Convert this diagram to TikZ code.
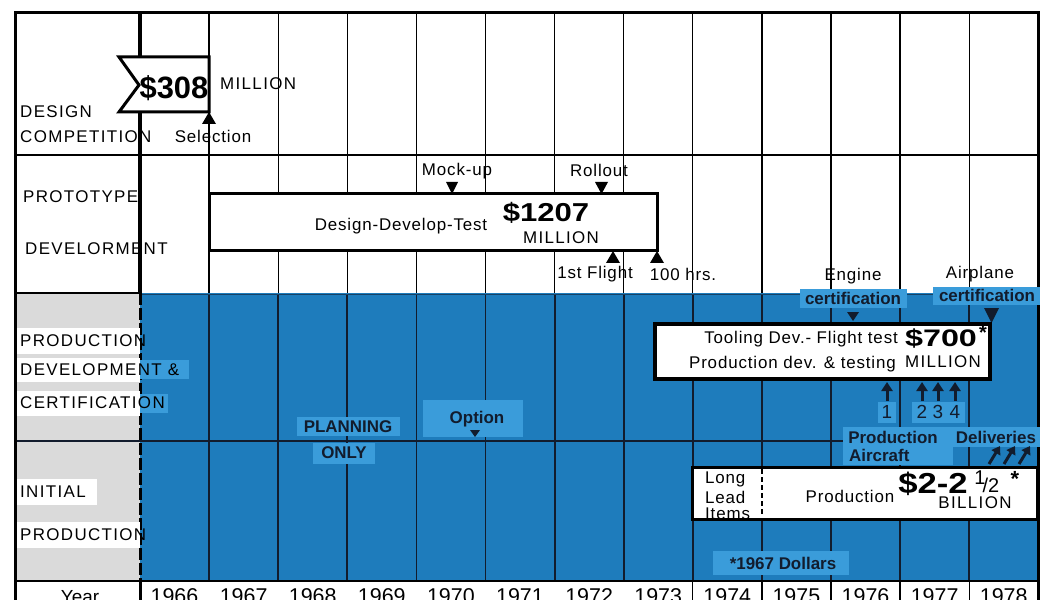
\documentclass[tikz,border=0pt]{standalone}
\usepackage{fontspec}
\usepackage{graphicx}
\setmainfont{Liberation Sans}
\newfontfamily\labf[LetterSpace=8]{Liberation Sans}
\newfontfamily\txtf[LetterSpace=5]{Liberation Sans}
\newfontfamily\numf{Liberation Sans}
\usetikzlibrary{arrows.meta}
\definecolor{bgblue}{RGB}{30,124,188}
\definecolor{hlblue}{RGB}{58,156,218}
\definecolor{ink}{RGB}{18,28,45}
\definecolor{stip}{RGB}{218,218,218}
\tikzset{
  lab/.style={font=\labf\fontsize{17}{17}\selectfont, inner sep=0pt},
  txt/.style={font=\txtf\fontsize{17}{17}\selectfont, inner sep=0pt},
  btxt/.style={font=\numf\bfseries\fontsize{17}{17}\selectfont, inner sep=0pt, text=ink},
  bignum/.style={font=\numf\bfseries\fontsize{#1}{#1}\selectfont, inner sep=0pt},
  yr/.style={font=\numf\fontsize{21.5}{22}\selectfont, inner sep=0pt, anchor=base},
  hl/.style={fill=hlblue},
  gridw/.style={line width=1.3bp, black},
  gridb/.style={line width=1.8bp, ink},
  heavybox/.style={line width=3bp, black, fill=white},
  uparrow/.style={ink, line width=3bp, -{Triangle[width=11bp,length=9bp]}},
}
\begin{document}
\begin{tikzpicture}[x=1bp,y=-1bp]
\useasboundingbox (0,0) rectangle (1040,600);
\fill[white] (0,0) rectangle (1040,600);
% regions
\fill[bgblue] (140,293) rectangle (1040,581);
\fill[stip] (15,293) rectangle (140,581);
\draw[ink!60!bgblue, line width=1.5bp] (140,294.5) -- (1040,294.5);
% grid
\foreach \k in {1,...,12}{
  \draw[gridw] ({140+69.1*\k},13) -- ({140+69.1*\k},293);
  \draw[gridb] ({140+69.1*\k},295) -- ({140+69.1*\k},581);
}
\foreach \k in {8,...,12}{
  \draw[gridw] ({140+69.1*\k},581) -- ({140+69.1*\k},600);
}
\draw[line width=1.6bp] (15,155) -- (1038,155);
\draw[line width=1.6bp] (15,293) -- (140,293);
\draw[line width=2bp, ink] (15,441) -- (845,441);
\draw[line width=2.5bp] (15,581) -- (1038,581);
\draw[line width=3bp] (15,600) -- (15,13) -- (1038,13) -- (1038,600);
\draw[line width=3.5bp] (140,13) -- (140,293);
\draw[line width=3bp, dash pattern=on 12bp off 3bp] (140,293) -- (140,581);
\draw[line width=3bp] (140,581) -- (140,600);

% ---- row 1
\node[lab, anchor=west] (design) at (20,112) {DESIGN};
\node[lab, anchor=west] (compet) at (20,137) {COMPETITION};
\draw[line width=3bp, fill=white, line join=miter] (119,57) -- (209,57) -- (209,112) -- (119,112) -- (139,85) -- cycle;
\node[bignum=31] (p308) at (174,88) {\$308};
\node[lab, anchor=west] (mil308) at (220,84) {MILLION};
\fill (202,124) -- (216,124) -- (209,112) -- cycle;
\node[txt] (sel) at (213,136) {Selection};

% ---- row 2
\node[lab, anchor=west] (proto) at (23,197) {PROTOTYPE};
\node[lab, anchor=west] (develor) at (25,249) {DEVELORMENT};
\draw[heavybox] (209,194) rectangle (657,251);
\node[txt] (ddt) at (401,226) {Design-Develop-Test};
\node[bignum=26] (p1207) at (546,213) {\scalebox{1.2}[1]{\$1207}};
\node[lab] (mil1207) at (561,238) {MILLION};
\node[txt] (mock) at (457,171) {Mock-up};
\fill (446,182) -- (458,182) -- (452,194) -- cycle;
\node[txt] (roll) at (599,170) {Rollout};
\fill (595,182) -- (608,182) -- (601.5,194) -- cycle;
\fill (606,263) -- (620,263) -- (613,251) -- cycle;
\fill (650,263) -- (664,263) -- (657,251) -- cycle;
\node[txt] (flight) at (595,274) {1st Flight};
\node[txt] (hrs) at (683,274) {100 hrs.};

% ---- certification labels
\node[txt] (engine) at (853,276) {Engine};
\fill[hl] (800,289) rectangle (907,308);
\node[btxt] (ecert) at (853,298) {certification};
\node[txt] (airpl) at (980,274) {Airplane};
\fill[hl] (933,287) rectangle (1040,305);
\node[btxt] (acert) at (987,295) {certification};
\fill[ink] (847,312) -- (859,312) -- (853,321) -- cycle;
\fill[ink] (984,308) -- (999,308) -- (991.5,323) -- cycle;

% ---- row 3 labels
\fill[white] (17,328) rectangle (140,354);
\node[lab, anchor=west] (prod3) at (20,341) {PRODUCTION};
\fill[white] (17,358) rectangle (140,382);
\fill[hl] (140,360) rectangle (189,379);
\node[lab, anchor=west] (devel3) at (20,370) {DEVELOPMENT \&};
\fill[white] (17,391) rectangle (140,416);
\fill[hl] (140,394) rectangle (168,413);
\node[lab, anchor=west] (cert3) at (20,403) {CERTIFICATION};

% ---- row 4 labels
\fill[white] (17,479) rectangle (97,505);
\node[lab, anchor=west] (init4) at (20,492) {INITIAL};
\fill[white] (17,522) rectangle (140,548);
\node[lab, anchor=west] (prod4) at (20,535) {PRODUCTION};

% ---- planning / option
\fill[hl] (297,417) rectangle (400,436);
\node[btxt] (plan) at (348,427) {PLANNING};
\fill[hl] (313,443) rectangle (375,464);
\node[btxt] (only) at (344,453) {ONLY};
\fill[hl] (423,400) rectangle (523,437);
\node[btxt] (option) at (477,419) {Option};
\fill[ink] (470,430) -- (480,430) -- (475,437) -- cycle;

% ---- row 3 box
\draw[heavybox, line width=3.5bp] (655,324) rectangle (990,379);
\node[txt, anchor=east] (tool) at (898,339) {Tooling Dev.- Flight test};
\node[txt, anchor=east] (pdev) at (896,364) {Production dev. \& testing};
\node[bignum=24] (p700) at (941,339) {\scalebox{1.35}[1]{\$700}};
\node[bignum=20] (ast1) at (983,333) {*};
\node[lab] (mil700) at (943,362) {MILLION};
\foreach \x in {887,922,938,955}{
  \draw[uparrow] (\x,401) -- (\x,382);
}
\fill[hl] (878,402) rectangle (896,423);
\fill[hl] (912,402) rectangle (965,423);
\node[txt, text=ink, font=\numf\fontsize{19}{19}\selectfont] (n1) at (887,412) {1};
\node[txt, text=ink, font=\numf\fontsize{19}{19}\selectfont] (n2) at (922,412) {2};
\node[txt, text=ink, font=\numf\fontsize{19}{19}\selectfont] (n3) at (938,412) {3};
\node[txt, text=ink, font=\numf\fontsize{19}{19}\selectfont] (n4) at (955,412) {4};

% ---- production aircraft / deliveries
\fill[hl] (843,427) rectangle (953,465);
\node[btxt] (pa1) at (893,437) {Production};
\node[btxt, anchor=west] (pa2) at (849,455) {Aircraft};
\fill[hl] (952,427) rectangle (1040,447);
\node[btxt] (deliv) at (996,437) {Deliveries};
\foreach \x in {989,1004,1019}{
  \draw[ink, line width=3bp, -{Triangle[width=10bp,length=8bp]}] (\x,464) -- (\x+11,446);
}

% ---- row 4 box
\draw[heavybox] (692,467) rectangle (1037,519);
\draw[line width=2.5bp, dash pattern=on 5bp off 3bp] (762,469) -- (762,517);
\node[txt, anchor=west] (long) at (705,479) {Long};
\node[txt, anchor=west] (lead) at (705,497) {Lead};
\node[txt, anchor=west] (items) at (705,514) {Items};
\node[txt] (prodn) at (850,496) {Production};
\node[bignum=29] (p22) at (933,484) {\scalebox{1.2}[1]{\$2-2}};
\node[txt, font=\numf\fontsize{20}{20}\selectfont] (half1) at (980,478) {1};
\node[txt, font=\numf\fontsize{20}{20}\selectfont] (half2) at (991,485) {/2};
\node[bignum=22] (ast2) at (1015,479) {*};
\node[lab] (bill) at (975,503) {BILLION};

% ---- footnote
\fill[hl] (713,551) rectangle (849,575);
\node[btxt] (dollars) at (783,563) {*1967 Dollars};

% ---- year row
\node[yr, font=\numf\fontsize{19}{19}\selectfont] (year) at (80,603) {Year};
\foreach \y [count=\i from 0] in {1966,1967,1968,1969,1970,1971,1972,1973,1974,1975,1976,1977,1978}{
  \node[yr] (y\y) at ({174.5+69.1*\i},603) {\y};
}
\end{tikzpicture}
\end{document}
